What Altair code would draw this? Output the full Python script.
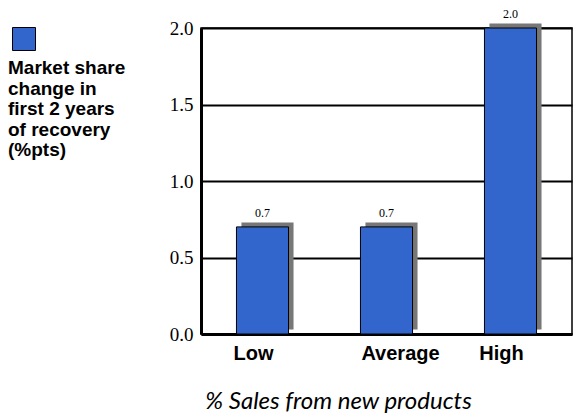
import altair as alt
import pandas as pd

categories = ["Low", "Average", "High"]
values = [0.7, 0.7, 2.0]
value_labels = ["0.7", "0.7", "2.0"]
y_ticks = [0.0, 0.5, 1.0, 1.5, 2.0]
series_name = "Market share change in first 2 years of recovery (%pts)"
legend_lines = ["Market share", "change in", "first 2 years", "of recovery", "(%pts)"]
x_title = "% Sales from new products"

df = pd.DataFrame({
    "category": categories,
    "value": values,
    "label": value_labels,
    "series": [series_name] * len(categories),
})

x = alt.X(
    "category:N",
    sort=categories,
    scale=alt.Scale(paddingInner=0.58, paddingOuter=0.286),
    axis=alt.Axis(
        title=x_title,
        labelAngle=0,
        labelFont="Liberation Sans",
        labelFontWeight="bold",
        labelFontSize=20,
        labelColor="black",
        labelPadding=9,
        labelBaseline="top",
        labelOffset={"condition": {"test": "datum.value === 'Average'", "value": 14}, "value": -9},
        domainColor="black",
        domainWidth=3,
        ticks=False,
        grid=False,
        titleFont="Lato",
        titleFontStyle="italic",
        titleFontWeight="normal",
        titleFontSize=24,
        titleColor="black",
        titleX=137,
        titleY=74,
        titleAlign="center",
        titleBaseline="alphabetic",
    ),
)

y = alt.Y(
    "value:Q",
    scale=alt.Scale(domain=[0, 2], nice=False),
    axis=alt.Axis(
        values=y_ticks,
        format=".1f",
        title=None,
        labelFont="Liberation Serif",
        labelFontSize=19,
        labelColor="black",
        labelPadding=8,
        ticks=False,
        grid=True,
        gridColor="black",
        gridWidth=2,
        gridOpacity=1,
        domainColor="black",
        domainWidth=3,
    ),
)

base = alt.Chart(df)

shadow = base.mark_bar(color="#777777", xOffset=5, yOffset=-4.5).encode(x=x, y=y)

bars = base.mark_bar(stroke="black", strokeWidth=1, opacity=1).encode(
    x=x,
    y=y,
    color=alt.Color(
        "series:N",
        scale=alt.Scale(range=["#3366CC"]),
        legend=alt.Legend(
            title=legend_lines,
            titleOrient="bottom",
            titleAnchor="start",
            titleFont="Liberation Sans",
            titleFontWeight="bold",
            titleFontSize=19,
            titleLineHeight=20.5,
            titleColor="black",
            titlePadding=6,
            labelExpr="''",
            symbolType="square",
            symbolSize=529,
            symbolStrokeColor="black",
            symbolStrokeWidth=1,
            symbolOpacity=1,
            symbolOffset=4,
            orient="none",
            legendX=-193,
            legendY=-1,
            padding=0,
        ),
    ),
)

text = base.mark_text(
    font="Liberation Serif", fontSize=12, dy=-10, baseline="alphabetic", color="black"
).encode(x=x, y=y, text="label:N")

chart = (
    alt.layer(shadow, bars, text)
    .properties(
        width=371,
        height=306,
        autosize="none",
        padding={"left": 201, "top": 28, "right": 1, "bottom": 84},
        background="white",
    )
    .configure_view(stroke="black", strokeWidth=1.5)
)

chart.save("out.html", embed_options={"renderer": "svg", "actions": False})
